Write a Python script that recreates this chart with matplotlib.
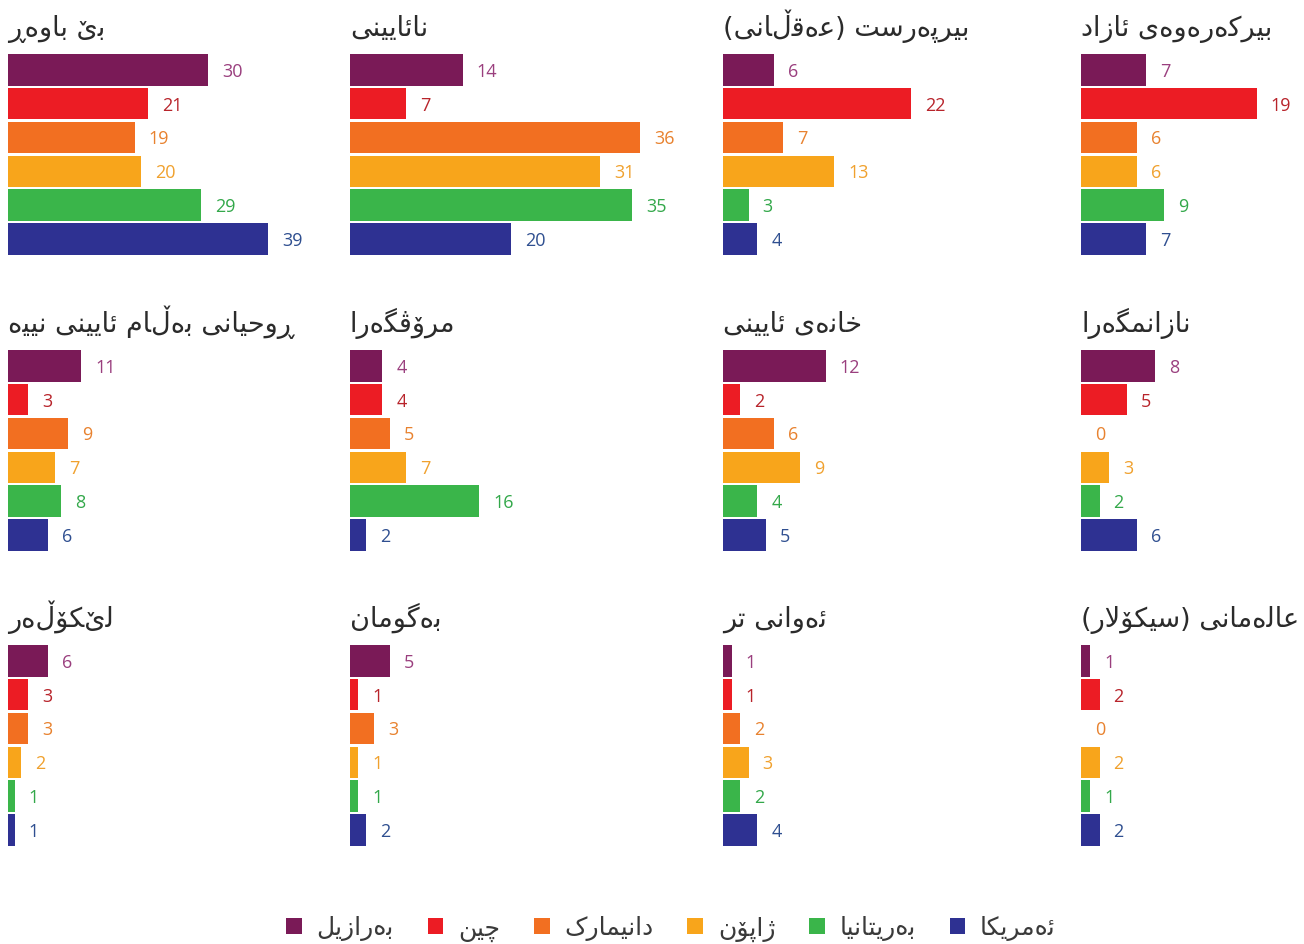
import numpy as np
import matplotlib
matplotlib.use("Agg")
import matplotlib.pyplot as plt
from matplotlib.patches import Patch

# ---- data ----
groups = ['بێ باوەڕ', 'نائایینی', 'بیرپەرست (عەقڵانی)', 'بیرکەرەوەی ئازاد',
          'ڕوحیانی بەڵام ئایینی نییە', 'مرۆڤگەرا', 'خانەی ئایینی', 'نازانمگەرا',
          'لێکۆڵەر', 'بەگومان', 'ئەوانی تر', 'عالەمانی (سیکۆلار)']
countries = ['بەرازیل', 'چین', 'دانیمارک', 'ژاپۆن', 'بەریتانیا', 'ئەمریکا']
brazil = [30, 14, 6, 7, 11, 4, 12, 8, 6, 5, 1, 1]
china = [21, 7, 22, 19, 3, 4, 2, 5, 3, 1, 1, 2]
denmark = [19, 36, 7, 6, 9, 5, 6, 0, 3, 3, 2, 0]
japan = [20, 31, 13, 6, 7, 7, 9, 3, 2, 1, 3, 2]
britain = [29, 35, 3, 9, 8, 16, 4, 2, 1, 1, 2, 1]
usa = [39, 20, 4, 7, 6, 2, 5, 6, 1, 2, 4, 2]
series = [brazil, china, denmark, japan, britain, usa]

bar_colors = ['#7a1a57', '#ec1c24', '#f26f21', '#f8a51b', '#3ab54a', '#2e3192']
label_colors = ['#9a3f7e', '#b8242b', '#e8822f', '#f0a12e', '#33a84a', '#2f4f90']

# ---- minimal arabic shaping (matplotlib has no shaping / bidi) ----
DUAL_FORMS = {  # isolated, final, initial, medial
    'ب': (0xFE8F, 0xFE90, 0xFE91, 0xFE92), 'ت': (0xFE95, 0xFE96, 0xFE97, 0xFE98),
    'ح': (0xFEA1, 0xFEA2, 0xFEA3, 0xFEA4), 'خ': (0xFEA5, 0xFEA6, 0xFEA7, 0xFEA8),
    'س': (0xFEB1, 0xFEB2, 0xFEB3, 0xFEB4), 'ع': (0xFEC9, 0xFECA, 0xFECB, 0xFECC),
    'ق': (0xFED5, 0xFED6, 0xFED7, 0xFED8), 'ل': (0xFEDD, 0xFEDE, 0xFEDF, 0xFEE0),
    'م': (0xFEE1, 0xFEE2, 0xFEE3, 0xFEE4), 'ن': (0xFEE5, 0xFEE6, 0xFEE7, 0xFEE8),
    'ئ': (0xFE89, 0xFE8A, 0xFE8B, 0xFE8C), 'پ': (0xFB56, 0xFB57, 0xFB58, 0xFB59),
    'چ': (0xFB7A, 0xFB7B, 0xFB7C, 0xFB7D), 'ڤ': (0xFB6A, 0xFB6B, 0xFB6C, 0xFB6D),
    'ک': (0xFB8E, 0xFB8F, 0xFB90, 0xFB91), 'گ': (0xFB92, 0xFB93, 0xFB94, 0xFB95),
    'ی': (0xFBFC, 0xFBFD, 0xFBFE, 0xFBFF),
}
RIGHT_FORMS = {  # isolated, final
    'ا': (0xFE8D, 0xFE8E), 'د': (0xFEA9, 0xFEAA), 'ر': (0xFEAD, 0xFEAE),
    'ز': (0xFEAF, 0xFEB0), 'و': (0xFEED, 0xFEEE), 'ژ': (0xFB8A, 0xFB8B),
    'ۆ': (0xFBD9, 0xFBDA),
}
DUAL = set(DUAL_FORMS) | {'ێ', 'ڵ'}
RIGHT = set(RIGHT_FORMS) | {'ڕ', 'ە'}


def rtl(text):
    out = []
    n = len(text)
    i = 0
    while i < n:
        ch = text[i]
        prev = text[i - 1] if i > 0 else ''
        nxt = text[i + 1] if i + 1 < n else ''
        joins_prev = prev in DUAL and (ch in DUAL or ch in RIGHT)
        if ch == 'ل' and nxt == 'ا':
            out.append(chr(0xFEFC if joins_prev else 0xFEFB))
            i += 2
            continue
        joins_next = ch in DUAL and (nxt in DUAL or nxt in RIGHT)
        if ch in DUAL_FORMS:
            f = DUAL_FORMS[ch]
            idx = 3 if (joins_prev and joins_next) else 1 if joins_prev else 2 if joins_next else 0
            out.append(chr(f[idx]))
        elif ch in RIGHT_FORMS:
            out.append(chr(RIGHT_FORMS[ch][1 if joins_prev else 0]))
        else:
            out.append(ch)
        i += 1
    vis = ''.join(reversed(out))
    return vis.translate(str.maketrans('()', ')('))


# ---- figure ----
W, H = 1304, 945
fig = plt.figure(figsize=(W / 100, H / 100), dpi=100)

col_x = [8, 350, 723, 1081]
col_w = [300, 330, 300, 220]
px_per_unit = [6.67, 8.06, 8.55, 9.25]
row_top = [54, 350, 645]
step = 33.8
ax_h = 6 * step

for i, name in enumerate(groups):
    r, c = divmod(i, 4)
    ax = fig.add_axes([col_x[c] / W, 1 - (row_top[r] + ax_h) / H,
                       col_w[c] / W, ax_h / H])
    vals = [s[i] for s in series]
    y = np.arange(6)
    ax.barh(y, vals, height=0.93, color=bar_colors)
    ax.set_xlim(0, col_w[c] / px_per_unit[c])
    ax.set_ylim(5.5, -0.5)
    ax.axis('off')
    for j, v in enumerate(vals):
        ax.annotate(str(v), (v, j), xytext=(14, -1), textcoords='offset pixels',
                    ha='left', va='center', fontsize=13, color=label_colors[j],
                    family='Open Sans', annotation_clip=False)
    ax.annotate(rtl(name), (0, 1), xycoords='axes fraction', xytext=(0, 18),
                textcoords='offset pixels', ha='left', va='baseline',
                fontsize=19.5, color='#2b2b2b', family='DejaVu Sans')

handles = [Patch(facecolor=col) for col in bar_colors]
fig.legend(handles, [rtl(n) for n in countries], loc='center',
           bbox_to_anchor=(671 / W, 1 - 929 / H), ncol=6, frameon=False,
           handlelength=0.62, handleheight=0.62, handletextpad=0.6,
           columnspacing=1.35, prop={'family': 'DejaVu Sans', 'size': 18},
           labelcolor='#3a3a3a')

fig.savefig('out.png', dpi=100, facecolor='white')
